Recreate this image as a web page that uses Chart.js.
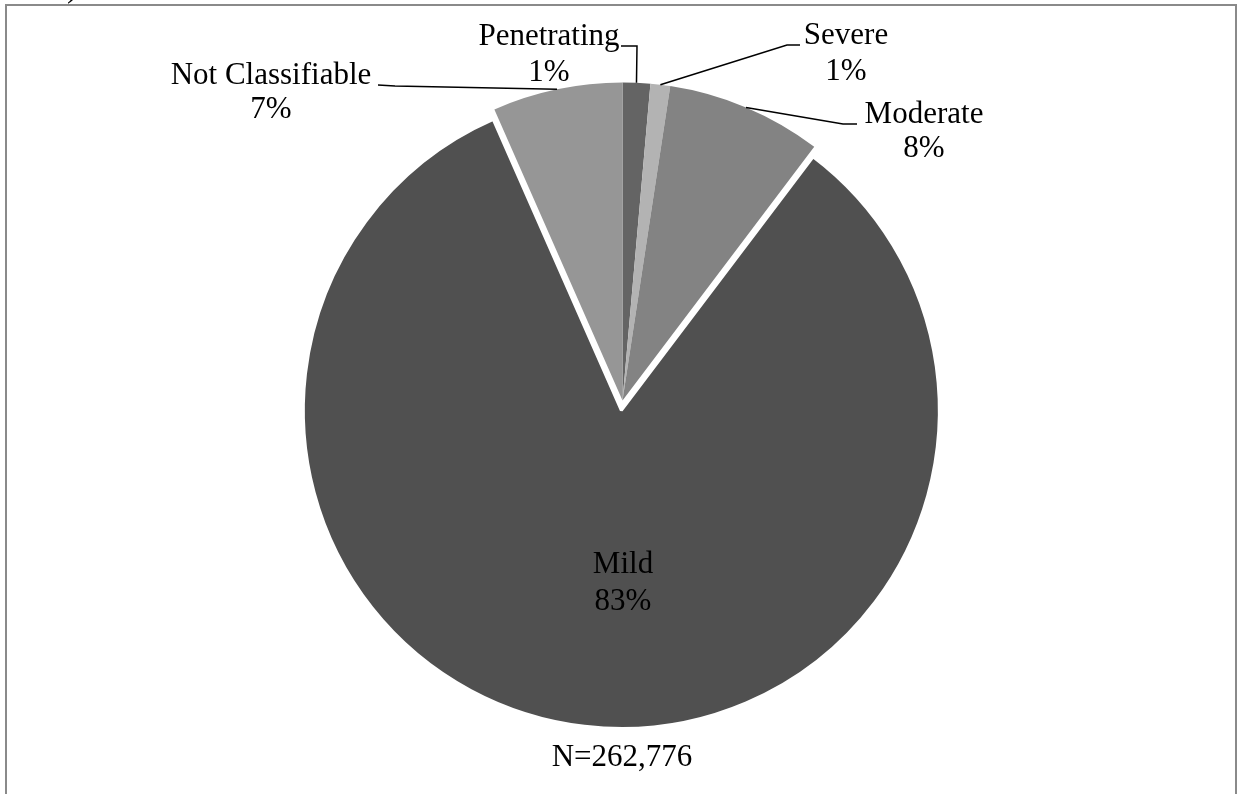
<!DOCTYPE html>
<html>
<head>
<meta charset="utf-8">
<script src="https://cdn.jsdelivr.net/npm/chart.js@4/dist/chart.umd.min.js"></script>
<style>
  html, body { margin: 0; padding: 0; background: #fff; }
  #wrap { width: 1242px; height: 794px; }
</style>
</head>
<body>
<div id="wrap"><canvas id="c" width="1242" height="794"></canvas></div>
<script>
// injury severity shares (percent)
const categories = ["Penetrating", "Severe", "Moderate", "Mild", "Not Classifiable"];
const shares = [1.4, 1.0, 7.9, 83.1, 6.6];
const pctLabels = ["1%", "1%", "8%", "83%", "7%"];
const totalLabel = "N=262,776";

const sliceColors = ["#646464", "#b3b3b3", "#838383", "#505050", "#969696"];
const explode = [0, 0, 0, 10, 0]; // px the slice is pulled out, Excel style
const FONT = '31px "Liberation Serif", "Times New Roman", serif';

// where each data label sits, plus the elbow of its leader line
const labelLayout = [
  { x: 549, y1: 37, y2: 73, line: [[621, 46], [637, 46]] },
  { x: 846, y1: 36, y2: 72, line: [[800, 45], [787, 45]] },
  { x: 924, y1: 115, y2: 149, line: [[857, 124], [843, 124]] },
  { x: 623, y1: 565, y2: 602, line: null },
  { x: 271, y1: 76, y2: 110, line: [[378, 85], [395, 86]] },
];

const decor = {
  id: "decor",
  afterUpdate(chart) {
    // shift exploded slices without growing their radius
    chart.getDatasetMeta(0).data.forEach((arc, i) => {
      if (!explode[i]) return;
      const mid = (arc.startAngle + arc.endAngle) / 2;
      arc.x += Math.cos(mid) * explode[i];
      arc.y += Math.sin(mid) * explode[i];
    });
  },
  beforeDraw(chart) {
    const ctx = chart.ctx;
    ctx.save();
    ctx.fillStyle = "#fff";
    ctx.fillRect(0, 0, chart.width, chart.height);
    // frame around the figure (bottom runs off the page)
    ctx.strokeStyle = "#8a8a8a";
    ctx.lineWidth = 2;
    ctx.beginPath();
    ctx.moveTo(6, 800);
    ctx.lineTo(6, 5);
    ctx.lineTo(1236, 5);
    ctx.lineTo(1236, 800);
    ctx.stroke();
    // tail of the panel letter cut off above
    ctx.fillStyle = "#000";
    ctx.font = FONT;
    ctx.textAlign = "left";
    ctx.textBaseline = "alphabetic";
    ctx.fillText(")", 67, -3);
    ctx.restore();
  },
  afterDatasetsDraw(chart) {
    const ctx = chart.ctx;
    const arcs = chart.getDatasetMeta(0).data;
    ctx.save();
    ctx.font = FONT;
    ctx.fillStyle = "#000";
    ctx.textAlign = "center";
    ctx.textBaseline = "middle";
    arcs.forEach((arc, i) => {
      const L = labelLayout[i];
      const p = arc.getProps(["x", "y", "startAngle", "endAngle", "outerRadius"], true);
      if (L.line) {
        const mid = (p.startAngle + p.endAngle) / 2;
        const ax = p.x + Math.cos(mid) * p.outerRadius;
        const ay = p.y + Math.sin(mid) * p.outerRadius;
        ctx.strokeStyle = "#000";
        ctx.lineWidth = 1.5;
        ctx.beginPath();
        ctx.moveTo(L.line[0][0], L.line[0][1]);
        ctx.lineTo(L.line[1][0], L.line[1][1]);
        ctx.lineTo(ax, ay);
        ctx.stroke();
      }
      ctx.fillText(categories[i], L.x, L.y1);
      ctx.fillText(pctLabels[i], L.x, L.y2);
    });
    ctx.fillText(totalLabel, 622, 758);
    ctx.restore();
  },
};

new Chart(document.getElementById("c"), {
  type: "pie",
  data: {
    labels: categories,
    datasets: [
      {
        data: shares,
        backgroundColor: sliceColors,
        borderColor: "#fff",
        borderWidth: [0, 0, 0, 3, 0],
        radius: 318,
      },
    ],
  },
  options: {
    responsive: false,
    animation: false,
    events: [],
    layout: { padding: { left: 3, top: 7, right: 0, bottom: 0 } },
    plugins: {
      legend: { display: false },
      tooltip: { enabled: false },
    },
  },
  plugins: [decor],
});
</script>
</body>
</html>
